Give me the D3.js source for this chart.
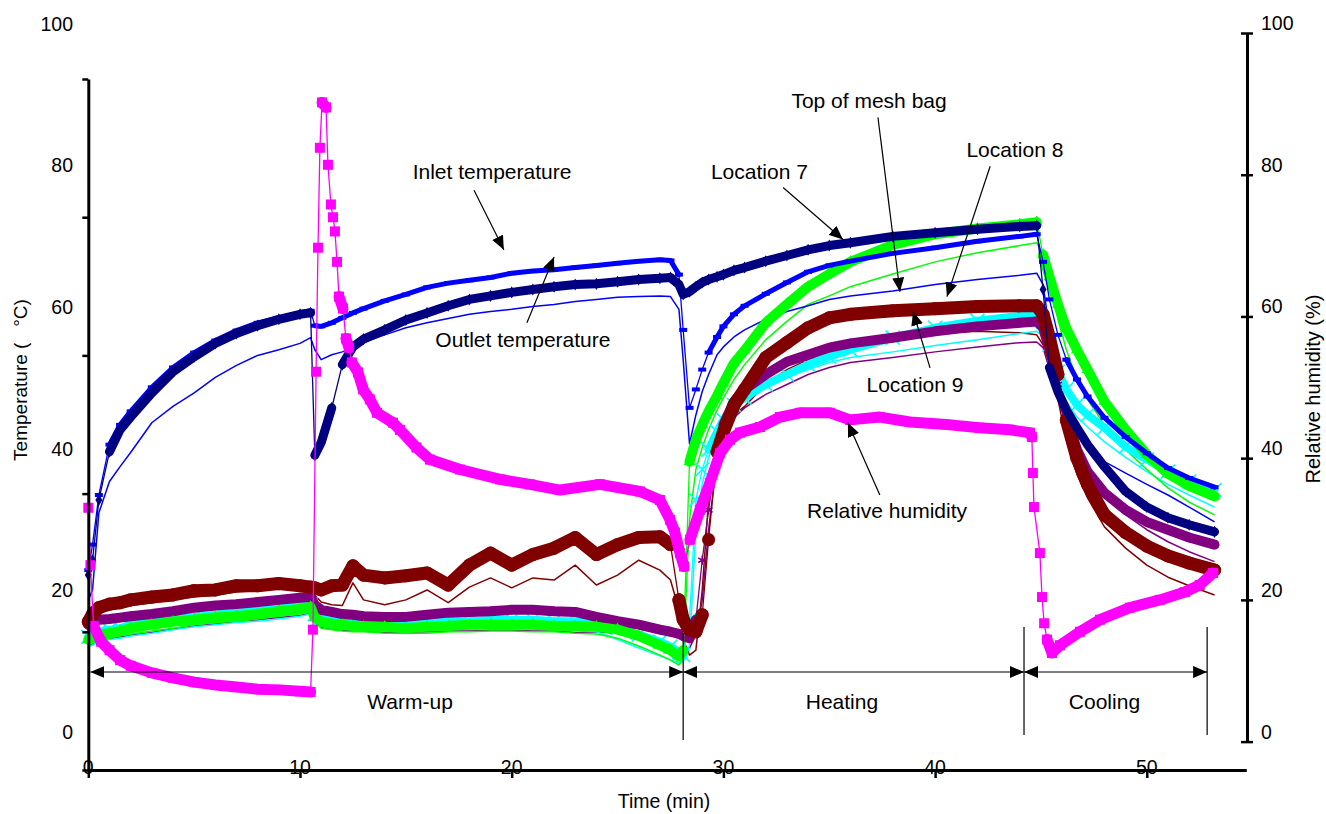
<!DOCTYPE html>
<html>
<head>
<meta charset="utf-8">
<script src="https://cdn.jsdelivr.net/npm/d3@7"></script>
<style>
  body { margin: 0; background: #fff; }
  text { font-family: "Liberation Sans", Arial, sans-serif; fill: #000; }
</style>
</head>
<body>
<svg id="chart" width="1326" height="814"></svg>
<script>
// ---- data ----
// sampling times (min) shared by all temperature traces
const minutes = [0, 0.2, 0.5, 1, 1.5, 2, 3, 4, 5, 6, 7, 8, 9, 10,
  10.5, 10.7, 11, 11.5, 12, 12.5, 13,
  14, 15, 16, 17, 18, 19, 20, 21, 22, 23, 24, 25, 26, 27,
  27.5, 27.9, 28.1, 28.4, 28.7, 29, 29.3, 29.7, 30,
  30.5, 31, 32, 33, 34, 35, 36, 38, 40, 42, 44,
  44.8, 45.1, 45.4, 45.8, 46.2, 46.7, 47.2,
  48, 49, 50, 51, 52, 53.2];

// temperatures (deg C)
const outletTemp = [23.5, 25.6, 34.1, 40.9, 44.0, 45.8, 49.2, 52.2, 54.3, 56.2, 57.6, 58.7, 59.6, 60.3,
  60.5, 40.4, 42.2, 47.1, 53.2, 55.7, 56.8,
  58.1, 59.5, 60.5, 61.5, 62.4, 62.9, 63.4, 63.8, 64.2, 64.5, 64.6, 64.9, 65.2, 65.4,
  65.5, 64.5, 63.1, 63.5, 64.2, 64.8, 65.2, 65.6, 65.9,
  66.5, 66.9, 67.8, 68.6, 69.4, 70.0, 70.4, 71.3, 71.8, 72.3, 72.7,
  72.8, 63.8, 52.8, 49.4, 46.8, 44.3, 41.9,
  38.8, 35.3, 33.1, 31.6, 30.6, 29.6];

const inletTemp = [24.2, 27.8, 34.8, 41.9, 44.7, 46.6, 50.0, 52.8, 54.9, 56.6, 58.0, 59.1, 59.8, 60.5,
  60.8, 58.7, 58.6, 59.1, 59.8, 60.5, 61.1,
  62.2, 63.1, 64.1, 64.7, 65.1, 65.5, 66.1, 66.4, 66.6, 66.9, 67.2, 67.5, 67.8, 68.0,
  67.9, 65.9, 58.1, 47.1, 49.7, 52.5, 54.9, 57.1, 58.6,
  60.3, 61.5, 63.2, 64.8, 66.3, 67.2, 67.8, 68.9, 69.7, 70.6, 71.3,
  71.6, 67.7, 62.4, 57.4, 53.9, 51.1, 48.7,
  45.7, 43.0, 40.7, 38.6, 37.2, 35.9];

const meshBagTop = [20.0, 21.4, 32.3, 36.7, 38.8, 40.8, 45.0, 47.3, 49.2, 51.4, 53.1, 54.5, 55.3, 56.2,
  57.0, 55.3, 53.9, 54.6, 55.0, 55.6, 56.3,
  57.4, 58.4, 59.1, 59.7, 60.3, 60.7, 61.0, 61.4, 61.7, 62.1, 62.4, 62.7, 62.8, 62.9,
  62.8, 61.0, 53.9, 42.0, 46.1, 49.4, 51.8, 54.6, 55.7,
  57.1, 58.1, 59.6, 60.7, 61.5, 62.4, 62.9, 63.6, 64.5, 65.2, 65.8,
  66.1, 64.5, 58.1, 51.1, 46.8, 44.0, 41.9,
  39.5, 37.9, 36.3, 34.8, 33.1, 31.0];

const location7 = [14.4, 14.6, 15.1, 15.3, 15.6, 16.0, 16.5, 16.9, 17.2, 17.5, 17.7, 18.0, 18.4, 18.7,
  19.0, 17.5, 16.9, 16.6, 16.5, 16.3, 16.2,
  16.2, 16.0, 16.2, 16.3, 16.5, 16.5, 16.5, 16.5, 16.3, 16.3, 16.2, 15.8, 14.9, 13.6,
  12.9, 12.0, 12.9, 39.5, 42.6, 44.7, 46.6, 48.8, 50.6,
  53.4, 55.2, 59.1, 61.7, 64.2, 66.0, 67.7, 70.1, 71.6, 72.4, 73.0,
  73.3, 68.7, 65.6, 61.7, 58.3, 55.3, 52.5,
  48.0, 44.0, 40.5, 37.8, 36.1, 34.6];

const location7b = [13.6, 13.9, 14.4, 14.6, 14.9, 15.2, 15.6, 16.0, 16.5, 16.8, 17.0, 17.3, 17.7, 18.0,
  18.3, 16.9, 16.0, 15.8, 15.6, 15.5, 15.5,
  15.3, 15.3, 15.3, 15.5, 15.5, 15.6, 15.6, 15.5, 15.5, 15.3, 15.2, 14.6, 13.5, 12.2,
  11.5, 10.8, 11.8, 31.3, 38.4, 41.5, 44.0, 46.8, 48.5,
  51.1, 53.2, 56.7, 59.3, 61.7, 62.9, 64.2, 66.0, 67.7, 69.0, 70.0,
  70.4, 68.7, 65.2, 59.6, 55.3, 51.1, 48.3,
  44.7, 41.2, 38.4, 35.8, 33.8, 32.0];

const location8 = [14.8, 15.1, 15.5, 15.8, 16.0, 16.5, 16.9, 17.3, 17.6, 17.9, 18.2, 18.6, 18.9, 19.2,
  19.4, 18.0, 17.5, 17.2, 17.0, 16.9, 16.9,
  16.9, 16.8, 16.9, 17.0, 17.0, 17.2, 17.2, 17.2, 17.0, 17.0, 16.9, 16.0, 15.1, 14.1,
  13.4, 12.7, 12.2, 17.2, 34.1, 38.4, 41.2, 43.7, 45.4,
  47.5, 48.5, 50.4, 51.8, 53.2, 54.3, 55.3, 57.0, 58.4, 59.4, 60.1,
  60.3, 59.3, 56.0, 52.2, 49.7, 47.5, 46.1,
  44.3, 41.6, 39.8, 38.1, 36.7, 35.5];

const location8b = [13.4, 13.6, 14.1, 14.4, 14.6, 14.9, 15.3, 15.8, 16.2, 16.5, 16.8, 17.0, 17.3, 17.7,
  18.0, 17.2, 16.3, 16.0, 15.9, 15.8, 15.8,
  15.6, 15.6, 15.8, 15.9, 15.9, 16.0, 16.0, 15.9, 15.9, 15.8, 15.5, 14.4, 13.2, 12.1,
  11.5, 11.1, 11.2, 13.6, 29.9, 36.3, 40.1, 42.9, 44.7,
  46.8, 48.3, 49.9, 51.4, 52.5, 53.5, 54.2, 55.0, 55.9, 56.7, 57.6,
  57.9, 57.2, 54.2, 50.4, 48.0, 45.8, 44.4,
  42.3, 40.1, 38.1, 36.3, 34.8, 33.1];

const location9 = [16.5, 16.9, 17.2, 17.3, 17.5, 17.7, 18.0, 18.4, 18.9, 19.2, 19.4, 19.7, 20.0, 20.3,
  20.4, 19.3, 18.6, 18.3, 18.0, 17.9, 17.7,
  17.6, 17.6, 17.9, 18.2, 18.3, 18.4, 18.6, 18.6, 18.4, 18.3, 17.6, 17.0, 16.5, 15.8,
  15.5, 15.2, 14.9, 14.6, 17.2, 25.6, 32.7, 41.2, 44.7,
  48.0, 49.7, 51.8, 53.6, 54.6, 55.6, 56.2, 57.0, 57.9, 58.6, 59.1,
  59.3, 58.4, 55.3, 50.4, 45.7, 41.2, 38.1,
  35.1, 32.7, 31.0, 29.9, 28.8, 27.8];

const location9b = [13.5, 13.8, 14.2, 14.5, 14.8, 15.0, 15.4, 15.9, 16.3, 16.6, 16.9, 17.2, 17.5, 17.8,
  18.1, 17.0, 16.1, 15.9, 15.7, 15.6, 15.6,
  15.4, 15.4, 15.5, 15.6, 15.6, 15.7, 15.7, 15.6, 15.6, 15.4, 15.5, 15.3, 14.8, 14.1,
  13.6, 13.0, 12.5, 13.2, 15.1, 20.0, 29.9, 39.8, 43.3,
  45.7, 47.1, 49.0, 50.4, 51.8, 52.8, 53.5, 54.2, 55.0, 55.7, 56.3,
  56.4, 55.6, 52.5, 48.3, 44.7, 41.2, 38.4,
  34.8, 32.0, 29.9, 28.2, 26.8, 25.4];

const bagCentre = [16.9, 18.0, 18.9, 19.4, 19.6, 20.0, 20.4, 20.7, 21.3, 21.4, 22.0, 22.0, 22.3, 22.0,
  21.8, 21.7, 21.4, 22.0, 22.1, 24.8, 23.5,
  23.1, 23.4, 23.8, 22.1, 24.9, 26.6, 24.9, 26.4, 27.3, 28.8, 26.4, 27.8, 28.8, 28.9,
  27.8, 20.0, 17.2, 15.8, 15.5, 17.9, 28.5, 40.9, 43.7,
  47.5, 49.7, 54.2, 56.3, 58.4, 59.8, 60.3, 60.8, 61.1, 61.4, 61.5,
  61.5, 60.3, 57.0, 51.8, 45.4, 40.0, 36.3,
  32.0, 29.5, 27.6, 26.2, 25.2, 24.2];

const bagCentreB = [16.0, 17.2, 18.2, 18.6, 18.9, 19.2, 19.6, 20.0, 20.4, 20.7, 21.1, 21.3, 21.6, 21.4,
  21.4, 20.7, 19.7, 19.3, 19.2, 22.4, 20.0,
  19.3, 20.0, 21.4, 19.6, 21.8, 23.1, 21.7, 23.1, 22.8, 24.9, 22.1, 23.5, 25.6, 24.2,
  22.8, 18.6, 14.4, 12.2, 12.9, 21.4, 34.1, 41.9, 44.3,
  46.1, 47.3, 50.4, 52.5, 53.9, 55.2, 56.0, 57.0, 57.6, 57.9, 57.7,
  57.4, 56.0, 53.2, 48.3, 42.6, 37.7, 34.4,
  30.3, 27.3, 24.9, 23.2, 22.0, 20.7];

// relative humidity (%) on its own time base
const rhMinutes = [0, 0.1, 0.25, 0.6, 1, 1.5, 2, 3, 4, 5, 6, 7, 8, 9, 10, 10.5,
  10.61, 10.76, 10.85, 10.94, 11.04, 11.23, 11.32, 11.46, 11.56, 11.65, 11.75, 11.84,
  12.03, 12.17, 12.31, 12.45, 12.74, 12.98, 13.3, 13.64, 14.39, 14.72, 15.5, 16.14,
  17.56, 19.45, 20.86, 22.28, 24.17, 26.06, 27.0, 27.48, 27.71, 27.95, 28.14, 28.42,
  28.89, 29.36, 29.84, 30.31, 30.78, 31.73, 32.67, 33.62, 35.03, 35.98, 37.39, 38.81,
  40.7, 42.1, 43.53, 44.48, 44.57, 44.62, 44.67, 44.95, 45.05, 45.15, 45.29, 45.52,
  45.9, 46.84, 47.79, 49.2, 50.62, 51.8, 52.5, 53.13];
const relHumidity = [33.0, 24.9, 16.3, 14.1, 12.9, 11.5, 10.7, 9.7, 9.0, 8.4, 8.0, 7.7, 7.4, 7.3, 7.1, 7.0,
  15.8, 52.2, 69.7, 83.8, 90.2, 89.5, 81.4, 75.8, 74.0, 72.0, 67.7, 62.8,
  61.1, 56.9, 55.6, 53.5, 52.1, 49.7, 48.3, 46.4, 45.0, 44.0, 41.5, 39.8,
  38.4, 37.0, 36.3, 35.5, 36.3, 35.3, 34.1, 31.3, 29.5, 26.6, 24.7, 28.5,
  32.7, 36.5, 40.7, 42.6, 43.6, 44.4, 45.8, 46.4, 46.4, 45.4, 45.8, 45.1,
  44.7, 44.3, 44.0, 43.6, 43.0, 37.9, 33.1, 26.6, 20.4, 16.7, 14.4, 12.5,
  13.6, 15.5, 17.2, 18.9, 20.0, 21.1, 22.1, 23.8];

const timeTicks = [0, 10, 20, 30, 40, 50];
const tempTicks = [0, 20, 40, 60, 80, 100];
const rhTicks = [0, 20, 40, 60, 80, 100];

const phaseNames = ['Warm-up', 'Heating', 'Cooling'];
const phaseBounds = [0, 28.1, 44.2, 52.85];
const phaseLabelAt = [15.2, 35.6, 48.0];

const notes = [
  { text: 'Inlet temperature', at: [19.07, 80.45], from: [18.22, 77.8], to: [19.63, 69.4] },
  { text: 'Outlet temperature', at: [20.53, 56.7], from: [20.72, 59.1], to: [22.0, 68.4] },
  { text: 'Location 7', at: [31.7, 80.45], from: [32.82, 78.2], to: [35.65, 70.85] },
  { text: 'Top of mesh bag', at: [36.88, 90.5], from: [37.3, 88.1], to: [38.34, 63.5] },
  { text: 'Location 8', at: [43.77, 83.6], from: [42.6, 81.2], to: [40.56, 62.8] },
  { text: 'Location 9', at: [39.05, 50.4], from: [39.76, 52.75], to: [38.96, 60.7] },
  { text: 'Relative humidity', at: [37.73, 32.6], from: [37.39, 34.8], to: [35.88, 45.0] }
];

// logger interval, used to decide where markers overlap into a solid band
const sampleStep = 0.1;

// ---- scales ----
const svg = d3.select('#chart');
const x = d3.scaleLinear().domain([0, 54.7]).range([88.3, 1246.3]);
const yTemp = d3.scaleLinear().domain([0, 100]).range([741.6, 33]);
const yRH = d3.scaleLinear().domain([0, 100]).range([741.6, 33]);
// the left axis frame of the original is drawn lower than its labels
const yLeftFrame = d3.scaleLinear().domain([0, 100]).range([770, 79]);

const defs = svg.append('defs');
defs.append('marker').attr('id', 'head')
  .attr('markerUnits', 'userSpaceOnUse')
  .attr('markerWidth', 15).attr('markerHeight', 12)
  .attr('refX', 14).attr('refY', 6)
  .attr('orient', 'auto-start-reverse')
  .append('path').attr('d', 'M0,0L14,6L0,12Z').attr('fill', '#000');

// ---- series drawing ----
const plot = svg.append('g');

function thinLine(times, vals, yS, color, w) {
  plot.append('path')
    .attr('d', d3.line().x((d, i) => x(times[i])).y(d => yS(d))(vals))
    .attr('fill', 'none').attr('stroke', color).attr('stroke-width', w)
    .attr('stroke-linejoin', 'round');
}

function markerSeries(times, vals, yS, color, shape, bandW) {
  const pts = vals.map((v, i) => [x(times[i]), yS(v)]);
  const step = x(sampleStep) - x(0);
  // band where consecutive logger samples would overlap
  let runs = [], cur = null;
  for (let i = 1; i < pts.length; i++) {
    const dx = pts[i][0] - pts[i - 1][0];
    const dy = Math.abs(pts[i][1] - pts[i - 1][1]);
    const perSample = dy / Math.max(dx / step, 1);
    if (perSample < bandW * 0.8) {
      if (!cur) { cur = [pts[i - 1]]; runs.push(cur); }
      cur.push(pts[i]);
    } else {
      cur = null;
    }
  }
  thinLine(times, vals, yS, color, 1.3);
  runs.forEach(r => {
    plot.append('path').attr('d', d3.line()(r))
      .attr('fill', 'none').attr('stroke', color).attr('stroke-width', bandW)
      .attr('stroke-linejoin', 'round').attr('stroke-linecap', 'round');
  });
  const g = plot.append('g');
  if (shape === 'dash') {
    g.selectAll('rect').data(pts).join('rect')
      .attr('x', d => d[0] - 4).attr('y', d => d[1] - 2)
      .attr('width', 8).attr('height', 4).attr('fill', color);
    return;
  }
  const types = {
    diamond: [d3.symbolDiamond, 42, true],
    square: [d3.symbolSquare, 100, true],
    triangle: [d3.symbolTriangle, 60, true],
    circle: [d3.symbolCircle, 135, true],
    x: [d3.symbolTimes || d3.symbolX || d3.symbolCross, 130, false],
    asterisk: [d3.symbolAsterisk || d3.symbolCross, 60, false]
  };
  const [type, size, filled] = types[shape];
  g.selectAll('path').data(pts).join('path')
    .attr('transform', d => `translate(${d[0]},${d[1]})`)
    .attr('d', d3.symbol(type, size))
    .attr('fill', filled ? color : 'none')
    .attr('stroke', filled ? 'none' : color)
    .attr('stroke-width', 1.6);
}

// thin traces (no markers)
thinLine(minutes, bagCentreB, yTemp, '#800000', 1.5);
thinLine(minutes, location9b, yTemp, '#800080', 1.5);
thinLine(minutes, location8b, yTemp, '#00FFFF', 1.5);
thinLine(minutes, location7b, yTemp, '#00FF00', 1.5);
thinLine(minutes, meshBagTop, yTemp, '#0000FF', 1.5);

// marker traces
markerSeries(minutes, location8, yTemp, '#00FFFF', 'x', 8);
markerSeries(minutes, location9, yTemp, '#800080', 'asterisk', 10);
markerSeries(minutes, location7, yTemp, '#00FF00', 'triangle', 10);
markerSeries(minutes, bagCentre, yTemp, '#800000', 'circle', 13);
markerSeries(minutes, inletTemp, yTemp, '#0000FF', 'dash', 5);
markerSeries(minutes, outletTemp, yTemp, '#000080', 'diamond', 9);
markerSeries(rhMinutes, relHumidity, yRH, '#FF00FF', 'square', 11);

// ---- axes ----
const axisStyle = g => {
  g.select('.domain').attr('stroke', '#000').attr('stroke-width', 3);
  g.selectAll('.tick line').attr('stroke', '#000').attr('stroke-width', 2.5);
};

svg.append('g').attr('transform', 'translate(88.3,0)')
  .call(d3.axisLeft(yLeftFrame).tickValues(tempTicks).tickSize(6).tickSizeOuter(0).tickFormat(''))
  .call(axisStyle);
svg.append('g').selectAll('text').data(tempTicks).join('text')
  .attr('x', 73).attr('y', d => yTemp(d) - 9.5)
  .attr('text-anchor', 'end').attr('dominant-baseline', 'central')
  .attr('font-size', 19.5).text(d => d);

svg.append('g').attr('transform', 'translate(1247,0)')
  .call(d3.axisRight(yRH).tickValues(rhTicks).tickSize(6).tickSizeOuter(0).tickFormat(''))
  .call(axisStyle)
  .call(g => g.selectAll('.tick line').attr('x1', -6).attr('x2', 6));
svg.append('g').selectAll('text').data(rhTicks).join('text')
  .attr('x', 1261).attr('y', d => yRH(d) - 10)
  .attr('text-anchor', 'start').attr('dominant-baseline', 'central')
  .attr('font-size', 19.5).text(d => d);

svg.append('g').attr('transform', 'translate(0,770)')
  .call(d3.axisBottom(x).tickValues(timeTicks).tickSize(8).tickSizeOuter(0).tickFormat(''))
  .call(axisStyle);
svg.append('g').selectAll('text').data(timeTicks).join('text')
  .attr('x', d => x(d)).attr('y', 767)
  .attr('text-anchor', 'middle').attr('dominant-baseline', 'central')
  .attr('font-size', 19.5).text(d => d);

// axis titles
svg.append('text').attr('transform', 'translate(20,380) rotate(-90)')
  .attr('text-anchor', 'middle').attr('dominant-baseline', 'central')
  .attr('font-size', 19).style('white-space', 'pre').text('Temperature (   °C)');
svg.append('text').attr('transform', 'translate(1313,389) rotate(-90)')
  .attr('text-anchor', 'middle').attr('dominant-baseline', 'central')
  .attr('font-size', 20).text('Relative humidity (%)');
svg.append('text').attr('x', 664).attr('y', 801)
  .attr('text-anchor', 'middle').attr('dominant-baseline', 'central')
  .attr('font-size', 19.5).text('Time (min)');

// ---- phase brackets ----
const phases = svg.append('g');
[phaseBounds[1], phaseBounds[2], phaseBounds[3]].forEach((b, i) => {
  phases.append('line').attr('x1', x(b)).attr('x2', x(b))
    .attr('y1', i === 0 ? 633 : 627).attr('y2', i === 0 ? 740 : 735)
    .attr('stroke', '#000').attr('stroke-width', 1.2);
});
phaseNames.forEach((name, i) => {
  phases.append('line')
    .attr('x1', x(phaseBounds[i]) + (i === 0 ? 2 : 0)).attr('x2', x(phaseBounds[i + 1]))
    .attr('y1', 672).attr('y2', 672)
    .attr('stroke', '#000').attr('stroke-width', 1.2)
    .attr('marker-start', 'url(#head)').attr('marker-end', 'url(#head)');
  phases.append('text').attr('x', x(phaseLabelAt[i])).attr('y', 701)
    .attr('text-anchor', 'middle').attr('dominant-baseline', 'central')
    .attr('font-size', 21).text(name);
});

// ---- callouts ----
const callouts = svg.append('g');
notes.forEach(n => {
  callouts.append('line')
    .attr('x1', x(n.from[0])).attr('y1', yTemp(n.from[1]))
    .attr('x2', x(n.to[0])).attr('y2', yTemp(n.to[1]))
    .attr('stroke', '#000').attr('stroke-width', 1.2)
    .attr('marker-end', 'url(#head)');
  callouts.append('text').attr('x', x(n.at[0])).attr('y', yTemp(n.at[1]))
    .attr('text-anchor', 'middle').attr('dominant-baseline', 'central')
    .attr('font-size', 21).text(n.text);
});
</script>
</body>
</html>
